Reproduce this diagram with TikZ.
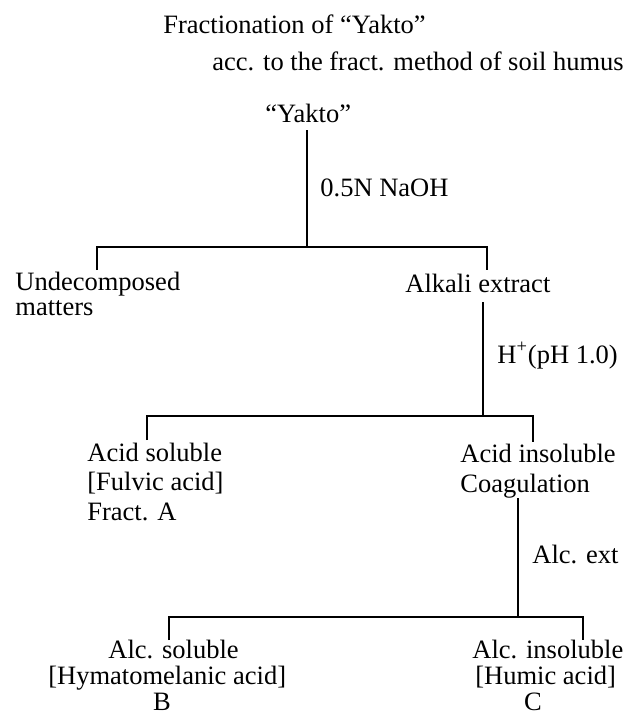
\documentclass[tikz,border=0pt]{standalone}
\usepackage{fontspec}
\setmainfont{Liberation Serif}
\begin{document}
\begin{tikzpicture}[x=0.5pt,y=-0.5pt]
\tikzset{
  lbl/.style={anchor=base west, inner sep=0pt, font=\fontsize{13.25}{15}\selectfont},
  lblc/.style={anchor=base, inner sep=0pt, font=\fontsize{13.25}{15}\selectfont},
  ln/.style={line width=0.7pt, black}
}
\useasboundingbox (0,0) rectangle (625,720);
% texts
\node[lbl] (title) at (163,33) {Fractionation of “Yakto”};
\node[lbl] (acc) at (212,70) {acc. to the fract. method of soil humus};
\node[lbl] (yakto) at (265,122) {“Yakto”};
\node[lbl] (naoh) at (320,196) {0.5N NaOH};
\node[lbl] (und) at (15,290) {Undecomposed};
\node[lbl] (mat) at (15,315) {matters};
\node[lbl] (alk) at (405,292) {Alkali extract};
\node[lbl] (hplus) at (497,363) {H\textsuperscript{+}(pH 1.0)};
\node[lbl] (asol) at (87,461) {Acid soluble};
\node[lbl] (fulv) at (87,490) {[Fulvic acid]};
\node[lbl] (fa) at (87,520) {Fract. A};
\node[lbl] (ains) at (460,462) {Acid insoluble};
\node[lbl] (coag) at (460,492) {Coagulation};
\node[lbl] (alcext) at (532,563) {Alc. ext};
\node[lbl] (alcsol) at (108,658) {Alc. soluble};
\node[lbl] (hyma) at (48,684) {[Hymatomelanic acid]};
\node[lblc] (B) at (162,710) {B};
\node[lbl] (alcins) at (472,658) {Alc. insoluble};
\node[lbl] (humic) at (475,684) {[Humic acid]};
\node[lblc] (C) at (533,710) {C};
% junction coordinates
\coordinate (v1t) at (307,130);
\coordinate (v1b) at (307,247);
\coordinate (h1l) at (97,247);
\coordinate (h1r) at (487,247);
\coordinate (d1l) at (97,270);
\coordinate (d1r) at (487,270);
\coordinate (v2t) at (483,302);
\coordinate (v2b) at (483,416);
\coordinate (h2l) at (147,416);
\coordinate (h2r) at (533,416);
\coordinate (d2l) at (147,440);
\coordinate (d2r) at (533,442);
\coordinate (v3t) at (518,498);
\coordinate (v3b) at (518,617);
\coordinate (h3l) at (169,617);
\coordinate (h3r) at (583,617);
\coordinate (d3l) at (169,640);
\coordinate (d3r) at (583,640);
% connectors
\draw[ln] (v1t) -- (v1b);
\draw[ln] (d1l) -- (h1l) -- (h1r) -- (d1r);
\draw[ln] (v2t) -- (v2b);
\draw[ln] (d2l) -- (h2l) -- (h2r) -- (d2r);
\draw[ln] (v3t) -- (v3b);
\draw[ln] (d3l) -- (h3l) -- (h3r) -- (d3r);
\end{tikzpicture}
\end{document}
